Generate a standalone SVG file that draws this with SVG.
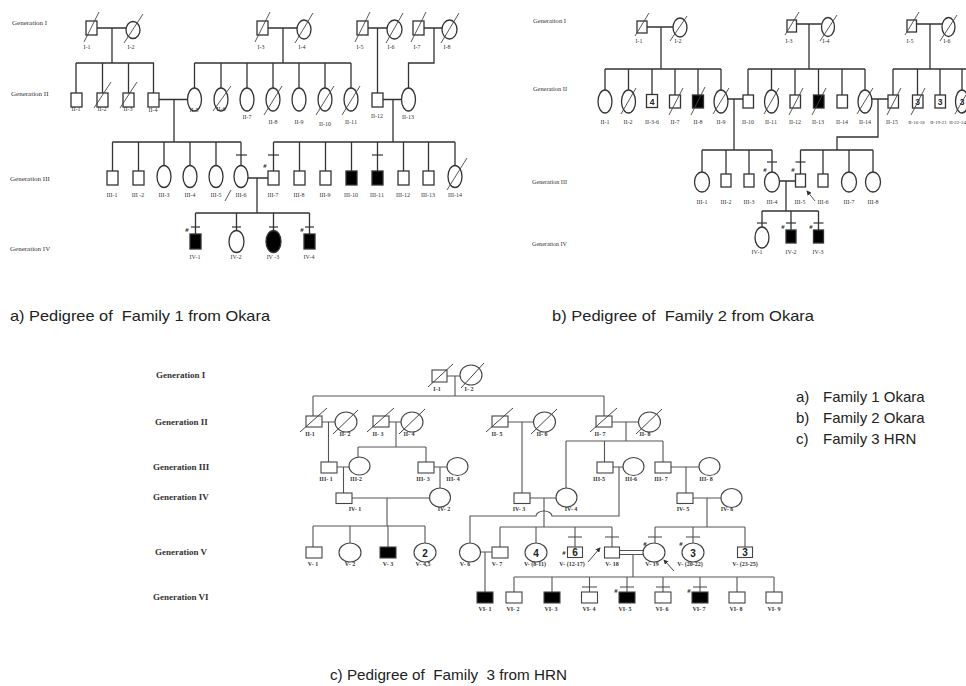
<svg xmlns="http://www.w3.org/2000/svg" width="966" height="686" viewBox="0 0 966 686">
<defs>
<style>
.c1{fill:none;stroke:#333;stroke-width:1.3}
.c3{fill:none;stroke:#555;stroke-width:1.1}
.s1{fill:#fff;stroke:#333;stroke-width:1.3}
.s3{fill:#fff;stroke:#444;stroke-width:1.1}
.a{fill:#000}
.d1{stroke:#444;stroke-width:0.9}
.d3{stroke:#444;stroke-width:1}
.k1{stroke:#333;stroke-width:1.2}
.k3{stroke:#444;stroke-width:1}
.t1{font-family:"Liberation Serif",serif;font-size:6px;fill:#333;text-anchor:middle}
.ts{font-size:5px}
.t3{font-family:"Liberation Serif",serif;font-size:6px;font-weight:bold;fill:#333;text-anchor:middle}
.g1{font-family:"Liberation Serif",serif;font-size:7px;fill:#333}
.g3{font-family:"Liberation Serif",serif;font-size:9px;font-weight:bold;fill:#333}
.cap{font-family:"Liberation Sans",Arial,sans-serif;font-size:15px;fill:#222}
.n1{font-family:"Liberation Sans",Arial,sans-serif;font-size:8.5px;font-weight:bold;fill:#222;text-anchor:middle}
.n3{font-family:"Liberation Sans",Arial,sans-serif;font-size:10px;font-weight:bold;fill:#222;text-anchor:middle}
.h{font-family:"Liberation Sans",Arial,sans-serif;font-size:6px;font-weight:bold;fill:#222;text-anchor:middle}
</style>
<marker id="ah" viewBox="0 0 6 6" refX="5" refY="3" markerWidth="5" markerHeight="5" markerUnits="userSpaceOnUse" orient="auto"><path d="M0,0L6,3L0,6z" fill="#333"/></marker>
</defs>
<rect width="966" height="686" fill="#fff"/>

<!-- ================= FAMILY 1 ================= -->
<g id="f1-labels">
<text class="g1" x="12" y="24.5">Generation I</text>
<text class="g1" x="11" y="95.5">Generation II</text>
<text class="g1" x="10" y="180.5">Generation III</text>
<text class="g1" x="10" y="250.5">Generation IV</text>
<text class="cap" x="10" y="321" xml:space="preserve" textLength="260" lengthAdjust="spacingAndGlyphs">a) Pedigree of  Family 1 from Okara</text>
</g>

<g id="f1-connectors">
<path class="c1" d="M97,28H126 M112,28V63 M76,63H154 M76,63V93 M102.5,63V93 M128.5,63V93 M153.5,63V93"/>
<path class="c1" d="M268,28H297 M283,28V63 M194.5,63H351 M194.5,63V88 M221,63V88 M247,63V88 M273,63V88 M299,63V88 M325,63V88 M351,63V88"/>
<path class="c1" d="M368,28H387 M377.5,28V93"/>
<path class="c1" d="M424,28H442 M434,28V63H408.5V88"/>
<path class="c1" d="M159,99.5H187.5 M174,99.5V142 M112.5,142H241 M112.5,142V171 M138.5,142V171 M164,142V165.5 M190,142V165.5 M216,142V165.5 M241,142V165.5"/>
<path class="c1" d="M383,99.5H401.5 M393,99.5V142 M273.5,142H455 M273.5,142V171 M299.5,142V171 M325.5,142V171 M351.5,142V171 M377.5,142V171 M403.5,142V171 M428.5,142V171 M455,142V165.5"/>
<path class="c1" d="M248,178H268 M257,178V213 M195.5,213H309.5 M195.5,213V234 M236.5,213V230.5 M273.5,213V230.5 M309.5,213V234"/>
</g>

<g id="f1-I-1"><rect class="s1" x="86" y="21" width="11" height="14"/><line class="d1" x1="84" y1="42" x2="99" y2="12"/><text class="t1" x="87" y="49">I-1</text></g>
<g id="f1-I-2"><ellipse class="s1" cx="133" cy="30" rx="7" ry="8.5"/><line class="d1" x1="124" y1="43" x2="143" y2="14"/><text class="t1" x="131" y="49">I-2</text></g>
<g id="f1-I-3"><rect class="s1" x="257" y="21" width="11" height="14"/><line class="d1" x1="255" y1="42" x2="270" y2="12"/><text class="t1" x="261" y="49">I-3</text></g>
<g id="f1-I-4"><ellipse class="s1" cx="304" cy="29.5" rx="7" ry="9.5"/><line class="d1" x1="295" y1="43" x2="313" y2="13"/><text class="t1" x="302" y="49">I-4</text></g>
<g id="f1-I-5"><rect class="s1" x="357" y="21" width="11" height="14"/><line class="d1" x1="355" y1="42" x2="370" y2="12"/><text class="t1" x="360" y="49">I-5</text></g>
<g id="f1-I-6"><ellipse class="s1" cx="394.5" cy="29.5" rx="7.5" ry="9.5"/><line class="d1" x1="386" y1="43" x2="403" y2="13"/><text class="t1" x="391" y="49">I-6</text></g>
<g id="f1-I-7"><rect class="s1" x="413" y="21" width="11" height="14"/><line class="d1" x1="411" y1="42" x2="426" y2="12"/><text class="t1" x="417" y="49">I-7</text></g>
<g id="f1-I-8"><ellipse class="s1" cx="449.5" cy="29.5" rx="7.5" ry="9.5"/><line class="d1" x1="441" y1="43" x2="459" y2="13"/><text class="t1" x="447" y="49">I-8</text></g>

<g id="f1-II-1"><rect class="s1" x="71" y="93" width="11" height="14"/><text class="t1" x="76" y="111">II-1</text></g>
<g id="f1-II-2"><rect class="s1" x="97" y="93" width="11" height="14"/><line class="d1" x1="94" y1="108" x2="111" y2="82"/><text class="t1" x="102" y="111">II-2</text></g>
<g id="f1-II-3"><rect class="s1" x="123" y="93" width="11" height="14"/><line class="d1" x1="120" y1="108" x2="137" y2="82"/><text class="t1" x="128" y="111">II-3</text></g>
<g id="f1-II-4"><rect class="s1" x="148" y="93" width="11" height="14"/><text class="t1" x="153" y="112">II-4</text></g>
<g id="f1-II-5"><ellipse class="s1" cx="194.5" cy="99.5" rx="7" ry="11.5"/><text class="t1" x="194" y="112">II-5</text></g>
<g id="f1-II-6"><ellipse class="s1" cx="221" cy="99.5" rx="7" ry="11.5"/><line class="d1" x1="213" y1="111" x2="231" y2="86"/><text class="t1" x="221" y="111">II-6</text></g>
<g id="f1-II-7"><ellipse class="s1" cx="247" cy="99.5" rx="7" ry="11.5"/><text class="t1" x="247" y="119">II-7</text></g>
<g id="f1-II-8"><ellipse class="s1" cx="273" cy="99.5" rx="7" ry="11.5"/><line class="d1" x1="264" y1="115" x2="282" y2="86"/><text class="t1" x="273" y="124">II-8</text></g>
<g id="f1-II-9"><ellipse class="s1" cx="299" cy="99.5" rx="7" ry="11.5"/><text class="t1" x="299" y="124">II-9</text></g>
<g id="f1-II-10"><ellipse class="s1" cx="325" cy="99.5" rx="7" ry="11.5"/><line class="d1" x1="316" y1="115" x2="334" y2="86"/><text class="t1" x="325" y="126">II-10</text></g>
<g id="f1-II-11"><ellipse class="s1" cx="351" cy="99.5" rx="7" ry="11.5"/><line class="d1" x1="342" y1="115" x2="360" y2="86"/><text class="t1" x="351" y="124">II-11</text></g>
<g id="f1-II-12"><rect class="s1" x="372" y="93" width="11" height="14"/><text class="t1" x="377" y="118">II-12</text></g>
<g id="f1-II-13"><ellipse class="s1" cx="408.5" cy="99.5" rx="7" ry="11.5"/><text class="t1" x="408" y="119">II-13</text></g>

<g id="f1-III-1"><rect class="s1" x="107" y="171" width="11" height="14"/><text class="t1" x="112" y="197">III-1</text></g>
<g id="f1-III-2"><rect class="s1" x="133" y="171" width="11" height="14"/><text class="t1" x="138" y="197">III -2</text></g>
<g id="f1-III-3"><ellipse class="s1" cx="164" cy="176.5" rx="7" ry="11"/><text class="t1" x="164" y="197">III-3</text></g>
<g id="f1-III-4"><ellipse class="s1" cx="190" cy="176.5" rx="7" ry="11"/><text class="t1" x="190" y="197">III-4</text></g>
<g id="f1-III-5"><ellipse class="s1" cx="216" cy="176.5" rx="7" ry="11"/><text class="t1" x="216" y="197">III-5</text></g>
<g id="f1-III-6"><ellipse class="s1" cx="241" cy="176.5" rx="7" ry="11"/><line class="k1" x1="236" y1="155" x2="247" y2="155"/><line class="d1" x1="225" y1="201" x2="231" y2="190"/><text class="t1" x="241" y="197">III-6</text></g>
<g id="f1-III-7"><rect class="s1" x="268" y="171" width="11" height="14"/><line class="k1" x1="268" y1="155" x2="279" y2="155"/><text class="h" x="265" y="168">#</text><text class="t1" x="273" y="197">III-7</text></g>
<g id="f1-III-8"><rect class="s1" x="294" y="171" width="11" height="14"/><text class="t1" x="299" y="197">III-8</text></g>
<g id="f1-III-9"><rect class="s1" x="320" y="171" width="11" height="14"/><text class="t1" x="325" y="197">III-9</text></g>
<g id="f1-III-10"><rect class="s1 a" x="346" y="171" width="11" height="14"/><text class="t1" x="351" y="197">III-10</text></g>
<g id="f1-III-11"><rect class="s1 a" x="372" y="171" width="11" height="14"/><line class="k1" x1="372" y1="155" x2="383" y2="155"/><text class="t1" x="377" y="197">III-11</text></g>
<g id="f1-III-12"><rect class="s1" x="398" y="171" width="11" height="14"/><text class="t1" x="403" y="197">III-12</text></g>
<g id="f1-III-13"><rect class="s1" x="423" y="171" width="11" height="14"/><text class="t1" x="428" y="197">III-13</text></g>
<g id="f1-III-14"><ellipse class="s1" cx="455" cy="176.5" rx="7" ry="11"/><line class="d1" x1="447" y1="190" x2="467" y2="158"/><text class="t1" x="455" y="197">III-14</text></g>

<g id="f1-IV-1"><rect class="s1 a" x="190" y="234" width="11" height="15"/><line class="k1" x1="191" y1="227" x2="200" y2="227"/><text class="h" x="187" y="232">#</text><text class="t1" x="195" y="259">IV-1</text></g>
<g id="f1-IV-2"><ellipse class="s1" cx="236.5" cy="241.5" rx="7.5" ry="11"/><line class="k1" x1="232" y1="227" x2="241" y2="227"/><text class="t1" x="236" y="259">IV-2</text></g>
<g id="f1-IV-3"><ellipse class="s1 a" cx="273.5" cy="241.5" rx="7.5" ry="11"/><line class="k1" x1="269" y1="227" x2="278" y2="227"/><text class="t1" x="273" y="259">IV -3</text></g>
<g id="f1-IV-4"><rect class="s1 a" x="304" y="234" width="11" height="15"/><line class="k1" x1="305" y1="227" x2="314" y2="227"/><text class="h" x="302" y="232">#</text><text class="t1" x="309" y="259">IV-4</text></g>

<!-- ================= FAMILY 2 ================= -->
<g id="f2-labels">
<text class="g1" x="533" y="22.5" textLength="33" lengthAdjust="spacingAndGlyphs">Generation I</text>
<text class="g1" x="533" y="90.5" textLength="34" lengthAdjust="spacingAndGlyphs">Generation II</text>
<text class="g1" x="532" y="183.5" textLength="35" lengthAdjust="spacingAndGlyphs">Generation III</text>
<text class="g1" x="532" y="245.5" textLength="35" lengthAdjust="spacingAndGlyphs">Generation IV</text>
<text class="cap" x="552" y="321" xml:space="preserve" textLength="262" lengthAdjust="spacingAndGlyphs">b) Pedigree of  Family 2 from Okara</text>
</g>

<g id="f2-connectors">
<path class="c1" d="M647,27H673 M661,27V69 M605,69H721 M605,69V90 M628.5,69V90 M652,69V94.5 M675,69V95 M698,69V95 M721,69V90"/>
<path class="c1" d="M796.5,24H821.5 M809,24V69 M748,69H865 M748,69V95 M771.5,69V90 M795,69V95 M818.5,69V95 M842,69V95 M865,69V90"/>
<path class="c1" d="M916.5,24H942 M930,24V69 M893,69H966 M893,69V95 M917.5,69V95 M940,69V95 M962,69V90"/>
<path class="c1" d="M728,99H743 M734,99V150 M702,150H772 M702,150V172 M726,150V174 M749,150V174 M772,150V172"/>
<path class="c1" d="M872,99H888 M878,99V137H837V150 M800.5,150H873 M800.5,150V174 M823,150V174 M849,150V172 M873,150V172"/>
<path class="c1" d="M779.5,181H795.5 M786,181V211 M762,211H818.5 M762,211V227 M791,211V230 M818.5,211V230"/>
</g>

<g id="f2-I-1"><rect class="s1" x="637" y="21" width="10" height="12"/><line class="d1" x1="635" y1="36" x2="649" y2="13"/><text class="t1" x="639" y="43">I-1</text></g>
<g id="f2-I-2"><ellipse class="s1" cx="680" cy="27.5" rx="7" ry="9.5"/><line class="d1" x1="670" y1="41" x2="687" y2="16"/><text class="t1" x="678" y="43">I-2</text></g>
<g id="f2-I-3"><rect class="s1" x="787" y="20" width="9.5" height="12"/><line class="d1" x1="785" y1="35" x2="799" y2="12"/><text class="t1" x="789" y="43">I-3</text></g>
<g id="f2-I-4"><ellipse class="s1" cx="828" cy="27" rx="6.5" ry="9.5"/><line class="d1" x1="820" y1="41" x2="837" y2="15"/><text class="t1" x="826" y="43">I-4</text></g>
<g id="f2-I-5"><rect class="s1" x="907" y="20" width="9.5" height="12"/><line class="d1" x1="905" y1="35" x2="919" y2="12"/><text class="t1" x="910" y="43">I-5</text></g>
<g id="f2-I-6"><ellipse class="s1" cx="948.5" cy="27" rx="6.5" ry="9.5"/><line class="d1" x1="940" y1="41" x2="957" y2="15"/><text class="t1" x="947" y="43">I-6</text></g>

<g id="f2-II-1"><ellipse class="s1" cx="605" cy="101.5" rx="7" ry="11.5"/><text class="t1" x="605" y="124">II-1</text></g>
<g id="f2-II-2"><ellipse class="s1" cx="628.5" cy="101.5" rx="7" ry="11.5"/><line class="d1" x1="621" y1="114" x2="636" y2="88"/><text class="t1" x="628" y="124">II-2</text></g>
<g id="f2-II-3-6"><rect class="s1" x="646.5" y="94.5" width="11" height="13"/><text class="n1" x="652" y="104.5">4</text><text class="t1" x="652" y="124">II-3-6</text></g>
<g id="f2-II-7"><rect class="s1" x="669.5" y="95" width="11" height="13"/><line class="d1" x1="669" y1="115" x2="683" y2="88"/><text class="t1" x="675" y="124">II-7</text></g>
<g id="f2-II-8"><rect class="s1 a" x="692.5" y="95" width="11" height="13"/><line class="d1" x1="691" y1="115" x2="705" y2="87"/><text class="t1" x="698" y="124">II-8</text></g>
<g id="f2-II-9"><ellipse class="s1" cx="721" cy="101.5" rx="7" ry="11.5"/><line class="d1" x1="713" y1="114" x2="729" y2="88"/><text class="t1" x="721" y="124">II-9</text></g>
<g id="f2-II-10"><rect class="s1" x="743" y="95" width="10.5" height="13"/><text class="t1" x="748" y="124">II-10</text></g>
<g id="f2-II-11"><ellipse class="s1" cx="771.5" cy="101.5" rx="7" ry="11.5"/><line class="d1" x1="764" y1="114" x2="779" y2="88"/><text class="t1" x="771" y="124">II-11</text></g>
<g id="f2-II-12"><rect class="s1" x="790" y="95" width="10.5" height="13"/><line class="d1" x1="789" y1="115" x2="803" y2="88"/><text class="t1" x="795" y="124">II-12</text></g>
<g id="f2-II-13"><rect class="s1 a" x="813.5" y="95" width="10.5" height="13"/><line class="d1" x1="812" y1="115" x2="826" y2="88"/><text class="t1" x="818" y="124">II-13</text></g>
<g id="f2-II-14"><rect class="s1" x="837" y="95" width="10.5" height="13"/><text class="t1" x="842" y="124">II-14</text></g>
<g id="f2-II-14b"><ellipse class="s1" cx="865" cy="101.5" rx="7" ry="11.5"/><line class="d1" x1="857" y1="114" x2="873" y2="88"/><text class="t1" x="865" y="124">II-14</text></g>
<g id="f2-II-15"><rect class="s1" x="888" y="95" width="10.5" height="13"/><line class="d1" x1="887" y1="115" x2="901" y2="88"/><text class="t1" x="892" y="124">II-15</text></g>
<g id="f2-II-16-18"><rect class="s1" x="912.5" y="95" width="10.5" height="13"/><text class="n1" x="917.5" y="105">3</text><line class="d1" x1="911" y1="115" x2="925" y2="88"/><text class="t1 ts" x="916.5" y="124">II-16-18</text></g>
<g id="f2-II-19-21"><rect class="s1" x="935" y="95" width="10.5" height="13"/><text class="n1" x="940" y="105">3</text><text class="t1 ts" x="938.5" y="124">II-19-21</text></g>
<g id="f2-II-22-24"><ellipse class="s1" cx="962" cy="101.5" rx="6.5" ry="11.5"/><text class="n1" x="962" y="105">3</text><line class="d1" x1="955" y1="114" x2="970" y2="88"/><text class="t1 ts" x="966" y="124" style="text-anchor:end">II-22-24</text></g>

<g id="f2-III-1"><ellipse class="s1" cx="702" cy="182" rx="7.5" ry="10"/><text class="t1" x="702" y="204">III-1</text></g>
<g id="f2-III-2"><rect class="s1" x="721" y="174" width="10" height="13"/><text class="t1" x="726" y="204">III-2</text></g>
<g id="f2-III-3"><rect class="s1" x="744" y="174" width="10" height="13"/><text class="t1" x="749" y="204">III-3</text></g>
<g id="f2-III-4"><ellipse class="s1" cx="772" cy="182" rx="7.5" ry="10"/><line class="k1" x1="767" y1="162" x2="777" y2="162"/><text class="h" x="765" y="172">#</text><text class="t1" x="772" y="204">III-4</text></g>
<g id="f2-III-5"><rect class="s1" x="795.5" y="174" width="10" height="13"/><line class="k1" x1="795.5" y1="162" x2="805.5" y2="162"/><text class="h" x="793" y="172">#</text><line class="d1" x1="815" y1="201" x2="807" y2="191" marker-end="url(#ah)"/><text class="t1" x="800" y="204">III-5</text></g>
<g id="f2-III-6"><rect class="s1" x="818" y="174" width="10" height="13"/><text class="t1" x="823" y="204">III-6</text></g>
<g id="f2-III-7"><ellipse class="s1" cx="849" cy="182" rx="7.5" ry="10"/><text class="t1" x="849" y="204">III-7</text></g>
<g id="f2-III-8"><ellipse class="s1" cx="873" cy="182" rx="7.5" ry="10"/><text class="t1" x="873" y="204">III-8</text></g>

<g id="f2-IV-1"><ellipse class="s1" cx="762" cy="237.5" rx="7" ry="10.5"/><line class="k1" x1="757" y1="223" x2="767" y2="223"/><text class="t1" x="757" y="254">IV-1</text></g>
<g id="f2-IV-2"><rect class="s1 a" x="786" y="230" width="10" height="13"/><line class="k1" x1="786" y1="223" x2="796" y2="223"/><text class="h" x="783" y="229">#</text><text class="t1" x="791" y="254">IV-2</text></g>
<g id="f2-IV-3"><rect class="s1 a" x="813.5" y="230" width="10" height="13"/><line class="k1" x1="813.5" y1="223" x2="823.5" y2="223"/><text class="h" x="811" y="229">#</text><text class="t1" x="818" y="254">IV-3</text></g>

<!-- ================= FAMILY 3 ================= -->
<g id="f3-labels">
<text class="g3" x="156" y="378">Generation I</text>
<text class="g3" x="155" y="425">Generation II</text>
<text class="g3" x="153" y="470">Generation III</text>
<text class="g3" x="153" y="500">Generation IV</text>
<text class="g3" x="155" y="555">Generation V</text>
<text class="g3" x="153" y="600">Generation VI</text>
<text class="cap" x="330" y="680" xml:space="preserve" textLength="237" lengthAdjust="spacingAndGlyphs">c) Pedigree of  Family  3 from HRN</text>
</g>

<g id="legend">
<text class="cap" x="796" y="402">a)</text><text class="cap" x="823" y="402">Family 1 Okara</text>
<text class="cap" x="796" y="423">b)</text><text class="cap" x="823" y="423">Family 2 Okara</text>
<text class="cap" x="796" y="444">c)</text><text class="cap" x="823" y="444">Family 3 HRN</text>
</g>

<g id="f3-connectors">
<path class="c3" d="M447,376H460 M455,376V396 M313,396H604 M313,396V416 M604,396V416"/>
<path class="c3" d="M322,422H335 M328.5,422V462"/>
<path class="c3" d="M389,422H401 M396,422V447 M358,447H426 M358,447V457 M426,447V462"/>
<path class="c3" d="M508,422H533.5 M522,422V493"/>
<path class="c3" d="M612,422H638.5 M626,422V441 M566,441H663 M566,441V488 M604.5,441V462 M663,441V462"/>
<path class="c3" d="M337,467H349 M343.5,467V493"/>
<path class="c3" d="M434,467H447 M440,467V488"/>
<path class="c3" d="M613,467H623 M619,467V516H552A8,5 0 0 0 536,516H470V543"/>
<path class="c3" d="M671,467H699 M686,467V493"/>
<path class="c3" d="M352,498H430 M387,498V526 M313,526H425 M313,526V547 M350,526V543 M388,526V547 M425,526V543"/>
<path class="c3" d="M530,498H556 M544,498V527 M500,527H612 M500,527V547 M536,527V543 M575,527V547 M612,527V547"/>
<path class="c3" d="M693,498H721 M707,498V527 M655,527H745 M655,527V543 M693,527V543 M745,527V547"/>
<path class="c3" d="M480.5,552H492 M485,552V592"/>
<path class="c3" d="M619,550.5H643.5 M619,554.5H643.5 M633,554.5V577 M514,577H774 M514,577V592 M552,577V592 M589.5,577V592 M627,577V592 M663,577V592 M700,577V592 M737,577V592 M774,577V592"/>
</g>

<g id="f3-I-1"><rect class="s3" x="432" y="370" width="15" height="12"/><line class="d3" x1="428" y1="387" x2="453" y2="364"/><text class="t3" x="437" y="391">I-1</text></g>
<g id="f3-I-2"><ellipse class="s3" cx="471" cy="375" rx="11" ry="10"/><line class="d3" x1="461" y1="388" x2="484" y2="363"/><text class="t3" x="469" y="391">I- 2</text></g>

<g id="f3-II-1"><rect class="s3" x="306" y="416" width="16" height="11"/><line class="d3" x1="300" y1="432" x2="327" y2="408"/><text class="t3" x="310" y="436">II-1</text></g>
<g id="f3-II-2"><ellipse class="s3" cx="346" cy="422" rx="11" ry="10"/><line class="d3" x1="333" y1="434" x2="358" y2="410"/><text class="t3" x="345" y="436">II- 2</text></g>
<g id="f3-II-3"><rect class="s3" x="373" y="416" width="16" height="11"/><line class="d3" x1="367" y1="432" x2="394" y2="408"/><text class="t3" x="378" y="436">II- 3</text></g>
<g id="f3-II-4"><ellipse class="s3" cx="412" cy="422" rx="11" ry="10"/><line class="d3" x1="399" y1="434" x2="425" y2="409"/><text class="t3" x="409" y="436">II- 4</text></g>
<g id="f3-II-5"><rect class="s3" x="492" y="416" width="16" height="11"/><line class="d3" x1="486" y1="432" x2="513" y2="408"/><text class="t3" x="497" y="436">II- 5</text></g>
<g id="f3-II-6"><ellipse class="s3" cx="544.5" cy="422" rx="11" ry="10"/><line class="d3" x1="531" y1="434" x2="557" y2="409"/><text class="t3" x="542" y="436">II- 6</text></g>
<g id="f3-II-7"><rect class="s3" x="596" y="416" width="16" height="11"/><line class="d3" x1="590" y1="432" x2="617" y2="408"/><text class="t3" x="600" y="436">II- 7</text></g>
<g id="f3-II-8"><ellipse class="s3" cx="649.5" cy="422" rx="11" ry="10"/><line class="d3" x1="636" y1="434" x2="662" y2="409"/><text class="t3" x="645" y="436">II- 8</text></g>

<g id="f3-III-1"><rect class="s3" x="321" y="462" width="16" height="11"/><text class="t3" x="326" y="481">III- 1</text></g>
<g id="f3-III-2"><ellipse class="s3" cx="359.5" cy="466" rx="10.5" ry="9"/><text class="t3" x="356" y="481">III-2</text></g>
<g id="f3-III-3"><rect class="s3" x="418" y="462" width="16" height="11"/><text class="t3" x="423" y="481">III- 3</text></g>
<g id="f3-III-4"><ellipse class="s3" cx="457.5" cy="466.5" rx="10.5" ry="9"/><text class="t3" x="453" y="481">III- 4</text></g>
<g id="f3-III-5"><rect class="s3" x="597" y="462" width="16" height="11"/><text class="t3" x="599" y="481">III-5</text></g>
<g id="f3-III-6"><ellipse class="s3" cx="633.5" cy="466.5" rx="10.5" ry="9"/><text class="t3" x="631" y="481">III-6</text></g>
<g id="f3-III-7"><rect class="s3" x="655" y="462" width="16" height="11"/><text class="t3" x="661" y="481">III- 7</text></g>
<g id="f3-III-8"><ellipse class="s3" cx="709.5" cy="466.5" rx="10.5" ry="9"/><text class="t3" x="706" y="481">III- 8</text></g>

<g id="f3-IV-1"><rect class="s3" x="336" y="493" width="16" height="10.5"/><text class="t3" x="355" y="511">IV- 1</text></g>
<g id="f3-IV-2"><ellipse class="s3" cx="440" cy="497.5" rx="10.5" ry="9.5"/><text class="t3" x="444" y="511">IV- 2</text></g>
<g id="f3-IV-3"><rect class="s3" x="514" y="493" width="16" height="10.5"/><text class="t3" x="519" y="511">IV- 3</text></g>
<g id="f3-IV-4"><ellipse class="s3" cx="566.5" cy="497.5" rx="10.5" ry="9.5"/><text class="t3" x="571" y="511">IV- 4</text></g>
<g id="f3-IV-5"><rect class="s3" x="677" y="493" width="16" height="10.5"/><text class="t3" x="683" y="511">IV- 5</text></g>
<g id="f3-IV-6"><ellipse class="s3" cx="731.5" cy="498" rx="10.5" ry="9.5"/><text class="t3" x="727" y="511">IV- 6</text></g>

<g id="f3-V-1"><rect class="s3" x="306" y="547" width="16" height="11"/><text class="t3" x="313" y="566">V- 1</text></g>
<g id="f3-V-2"><ellipse class="s3" cx="350" cy="552.5" rx="11" ry="9.5"/><text class="t3" x="350" y="566">V- 2</text></g>
<g id="f3-V-3"><rect class="s3 a" x="380" y="547" width="16" height="11"/><text class="t3" x="388" y="566">V- 3</text></g>
<g id="f3-V-4-5"><ellipse class="s3" cx="425" cy="552.5" rx="11" ry="9.5"/><text class="n3" x="425" y="556.5">2</text><text class="t3" x="423" y="566">V- 4,5</text></g>
<g id="f3-V-6"><ellipse class="s3" cx="470" cy="552.5" rx="10.5" ry="9.5"/><text class="t3" x="465" y="566">V- 6</text></g>
<g id="f3-V-7"><rect class="s3" x="492" y="547" width="16" height="11"/><text class="t3" x="497" y="566">V- 7</text></g>
<g id="f3-V-8-11"><ellipse class="s3" cx="536" cy="552.5" rx="11" ry="9.5"/><text class="n3" x="536" y="556.5">4</text><text class="t3" x="535" y="566">V- (8-11)</text></g>
<g id="f3-V-12-17"><rect class="s3" x="567.5" y="547" width="15" height="10.5"/><text class="n3" x="575" y="556">6</text><line class="k3" x1="568" y1="537" x2="582" y2="537"/><text class="h" x="564" y="555">#</text><text class="t3" x="572" y="566">V- (12-17)</text></g>
<g id="f3-V-18"><rect class="s3" x="604.5" y="547" width="15" height="11"/><line class="k3" x1="605" y1="537" x2="619" y2="537"/><line class="d3" x1="588" y1="562" x2="600" y2="548" marker-end="url(#ah)"/><text class="t3" x="612" y="566">V- 18</text></g>
<g id="f3-V-19"><ellipse class="s3" cx="654" cy="552.5" rx="11" ry="9.5"/><line class="k3" x1="648" y1="537" x2="662" y2="537"/><text class="h" x="645" y="546">#</text><line class="d3" x1="674" y1="571" x2="664" y2="560" marker-end="url(#ah)"/><text class="t3" x="652" y="566">V- 19</text></g>
<g id="f3-V-20-22"><ellipse class="s3" cx="693" cy="552.5" rx="11" ry="9.5"/><text class="n3" x="693" y="556.5">3</text><line class="k3" x1="686" y1="537" x2="700" y2="537"/><text class="h" x="681" y="546">#</text><text class="t3" x="690" y="566">V- (20-22)</text></g>
<g id="f3-V-23-25"><rect class="s3" x="737.5" y="547" width="15" height="10.5"/><text class="n3" x="745" y="556">3</text><text class="t3" x="745" y="566">V- (23-25)</text></g>

<g id="f3-VI-1"><rect class="s3 a" x="477" y="592" width="16" height="11"/><text class="t3" x="485" y="611">VI- 1</text></g>
<g id="f3-VI-2"><rect class="s3" x="506" y="592" width="16" height="11"/><text class="t3" x="513" y="611">VI- 2</text></g>
<g id="f3-VI-3"><rect class="s3 a" x="544" y="592" width="16" height="11"/><text class="t3" x="551" y="611">VI- 3</text></g>
<g id="f3-VI-4"><rect class="s3" x="581.5" y="592" width="16" height="11"/><line class="k3" x1="582" y1="587" x2="597" y2="587"/><text class="t3" x="589" y="611">VI- 4</text></g>
<g id="f3-VI-5"><rect class="s3 a" x="619" y="592" width="16" height="11"/><line class="k3" x1="620" y1="587" x2="634" y2="587"/><text class="h" x="616" y="593">#</text><text class="t3" x="625" y="611">VI- 5</text></g>
<g id="f3-VI-6"><rect class="s3" x="655" y="592" width="16" height="11"/><line class="k3" x1="656" y1="587" x2="670" y2="587"/><text class="t3" x="662" y="611">VI- 6</text></g>
<g id="f3-VI-7"><rect class="s3 a" x="692" y="592" width="16" height="11"/><line class="k3" x1="693" y1="587" x2="707" y2="587"/><text class="h" x="689" y="593">#</text><text class="t3" x="699" y="611">VI- 7</text></g>
<g id="f3-VI-8"><rect class="s3" x="729" y="592" width="16" height="11"/><text class="t3" x="736" y="611">VI- 8</text></g>
<g id="f3-VI-9"><rect class="s3" x="766" y="592" width="16" height="11"/><text class="t3" x="774" y="611">VI- 9</text></g>
</svg>
